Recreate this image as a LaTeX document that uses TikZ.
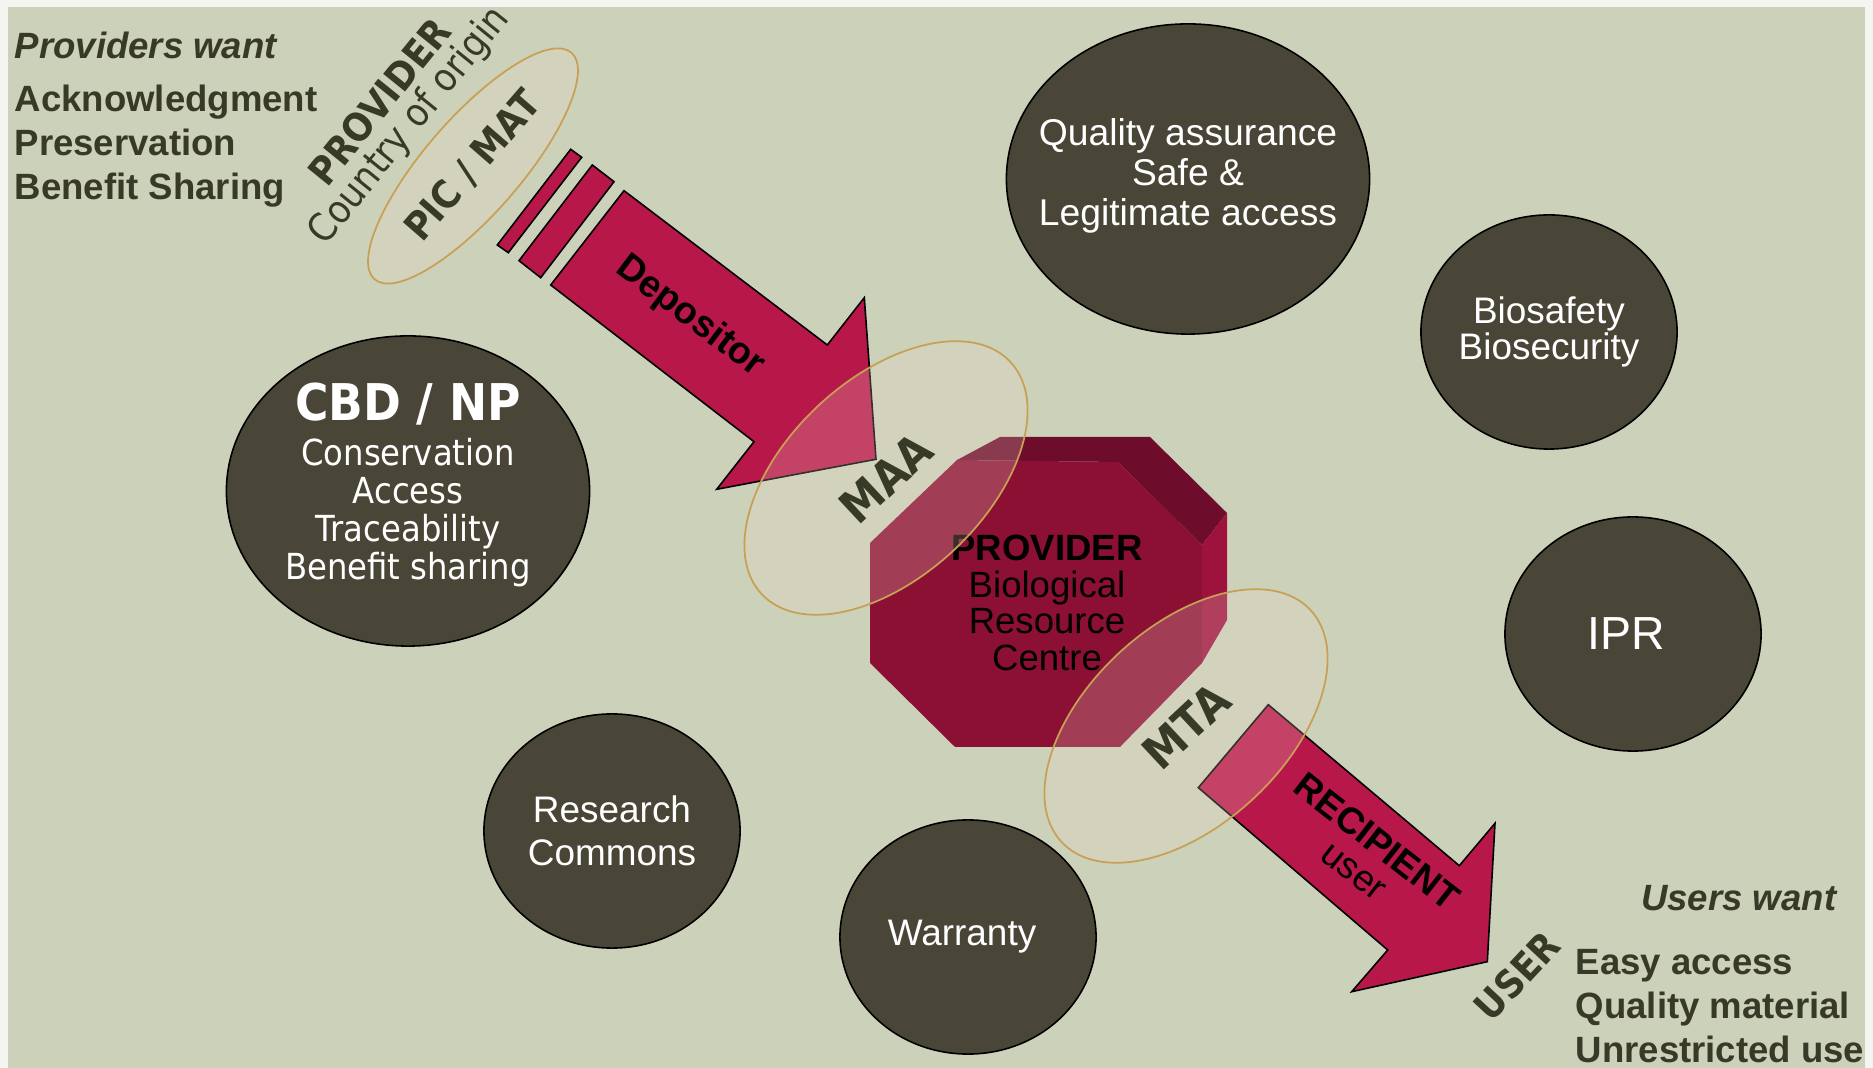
\documentclass[tikz,border=0pt]{standalone}
\usepackage{fontspec}
\setmainfont{Liberation Sans}
\newfontfamily\tahoma[FakeStretch=0.9]{DejaVu Sans}
\usetikzlibrary{shapes.geometric}
\definecolor{paper}{RGB}{244,245,240}
\definecolor{sage}{RGB}{204,209,185}
\definecolor{ink}{RGB}{56,58,40}
\definecolor{blob}{RGB}{74,70,55}
\definecolor{crimson}{RGB}{184,23,74}
\definecolor{octfront}{RGB}{140,16,52}
\definecolor{octtop}{RGB}{110,13,43}
\definecolor{octside}{RGB}{158,18,62}
\definecolor{rim}{RGB}{200,160,85}
\definecolor{veilfill}{RGB}{240,222,205}
\tikzset{
  disc/.style={ellipse,draw=black,line width=0.45pt,fill=blob,inner sep=0pt},
  bigdisc/.style={disc,minimum width=3.63cm,minimum height=3.10cm},
  smalldisc/.style={disc,minimum width=2.56cm,minimum height=2.34cm},
  disctext/.style={text=white,align=center,inner sep=0pt},
  veil/.style={ellipse,draw=rim,line width=0.5pt,fill=veilfill,fill opacity=0.22,text opacity=1,
    text=ink,inner sep=0pt,font=\tahoma\bfseries\fontsize{13.2}{13}\selectfont},
  shaft/.style={fill=crimson,draw=black,line width=0.45pt},
  want/.style={anchor=base west,inner sep=0pt,text=ink,font=\bfseries\fontsize{10.4}{12}\selectfont},
}
\def\BAR#1#2#3#4{\draw[shaft] (#1) -- (#2) -- (#3) -- (#4) -- cycle;}

\begin{document}
\begin{tikzpicture}[x=0.01cm,y=-0.01cm]
  \useasboundingbox (0,0) rectangle (1873,1068);
  \fill[paper] (0,0) rectangle (1873,1068);
  \fill[sage] (8,7) rectangle (1865,1068);
  % the dark discs
  \node[bigdisc] (qa) at (1188,179) {};
  \node[disctext,font=\fontsize{10.6}{11.4}\selectfont] (qat) at ([yshift=1pt]qa.center)
    {Quality assurance\\Safe \&\\Legitimate access};
  \node[smalldisc] (bio) at (1549,332) {};
  \node[disctext,font=\fontsize{10.5}{10.2}\selectfont] (biot) at (bio) {Biosafety\\Biosecurity};
  \node[smalldisc] (ipr) at (1633,634) {};
  \node[disctext,font=\fontsize{13.2}{14}\selectfont] (iprt) at ([xshift=-2pt]ipr.center) {IPR};
  \node[bigdisc] (cbd) at (408,491) {};
  \node[disctext,font=\tahoma\fontsize{10.2}{10.8}\selectfont] (cbdt) at ([yshift=1.7pt]cbd.center)
    {{\bfseries\fontsize{14.4}{15}\selectfont CBD / NP}\\[2pt]Conservation\\Access\\Traceability\\Benefit sharing};
  \node[smalldisc] (rc) at (612,831) {};
  \node[disctext,font=\fontsize{10.5}{12.2}\selectfont] (rct) at (rc) {Research\\Commons};
  \node[smalldisc] (war) at (968,937) {};
  \node[disctext,font=\fontsize{10.5}{12}\selectfont] (wart) at ([xshift=-1.7pt]war.center) {Warranty};
  % depositor
  \BAR{570.7,149.3}{581.7,157.3}{508.3,252.7}{497.3,245}
  \BAR{592.3,165}{614,181.7}{540.7,277.7}{519,260.7}
  \draw[shaft] (624,190.7) -- (827.3,345) -- (864.3,297.7) -- (876,459.3)
    -- (716.7,489.3) -- (754,441.7) -- (550.7,285) -- cycle;
  % the centre block
  \fill[octfront] (957,460) -- (1118,462) -- (1202,545) -- (1202,663) -- (1120,747)
    -- (955,747) -- (870,663) -- (870,543) -- cycle;
  \fill[octtop] (957,460) -- (1000,437) -- (1150,437) -- (1227,513) -- (1202,545) -- (1118,462) -- cycle;
  \fill[octside] (1202,545) -- (1227,513) -- (1227,620) -- (1202,663) -- cycle;
  \node[align=center,font=\fontsize{10.4}{10.4}\selectfont] (brc) at (1047,603)
    {{\bfseries PROVIDER}\\Biological\\Resource\\Centre};
  % recipient
  \draw[shaft] (1268.3,704.7) -- (1459.3,865.7) -- (1495,823.3) -- (1487.3,961.7)
    -- (1351.7,991.7) -- (1387.7,950) -- (1198.3,787.7) -- cycle;
  % agreements
  \node[veil,minimum width=3.0cm,minimum height=0.96cm,rotate=49,font=\tahoma\bfseries\fontsize{11}{11}\selectfont] (pic) at (473,166) {PIC / MAT};
  \node[veil,minimum width=3.40cm,minimum height=1.98cm,rotate=43] (maa) at (886,478) {MAA};
  \node[veil,minimum width=3.40cm,minimum height=1.98cm,rotate=43] (mta) at (1186,726) {MTA};
  % labels
  \node[rotate=-37,font=\bfseries\fontsize{10.7}{12}\selectfont] (dep) at (690,317) {Depositor};
  \node[rotate=-38,align=center,font=\fontsize{10.5}{10.4}\selectfont] (rec) at (1366,856)
    {{\bfseries RECIPIENT}\\user};
  \node[rotate=51,align=center,text=ink,font=\tahoma\fontsize{11}{10.2}\selectfont] (prov) at (396,115)
    {{\bfseries PROVIDER}\\Country of origin};
  \node[rotate=47,text=ink,font=\tahoma\bfseries\fontsize{11}{11}\selectfont] (usr) at (1517,976) {USER};
  \node[want,font=\bfseries\itshape\fontsize{10.4}{12}\selectfont] (pw) at (14,59) {Providers want};
  \foreach \txt [count=\i] in {Acknowledgment,Preservation,Benefit Sharing}
    \node[want] (pw\i) at (14,67.7+44*\i) {\txt};
  \node[want,anchor=base east,font=\bfseries\itshape\fontsize{10.4}{12}\selectfont] (uw) at (1837,911) {Users want};
  \foreach \txt [count=\i] in {Easy access,Quality material,Unrestricted use}
    \node[want] (uw\i) at (1575,931+44*\i) {\txt};
\end{tikzpicture}
\end{document}
